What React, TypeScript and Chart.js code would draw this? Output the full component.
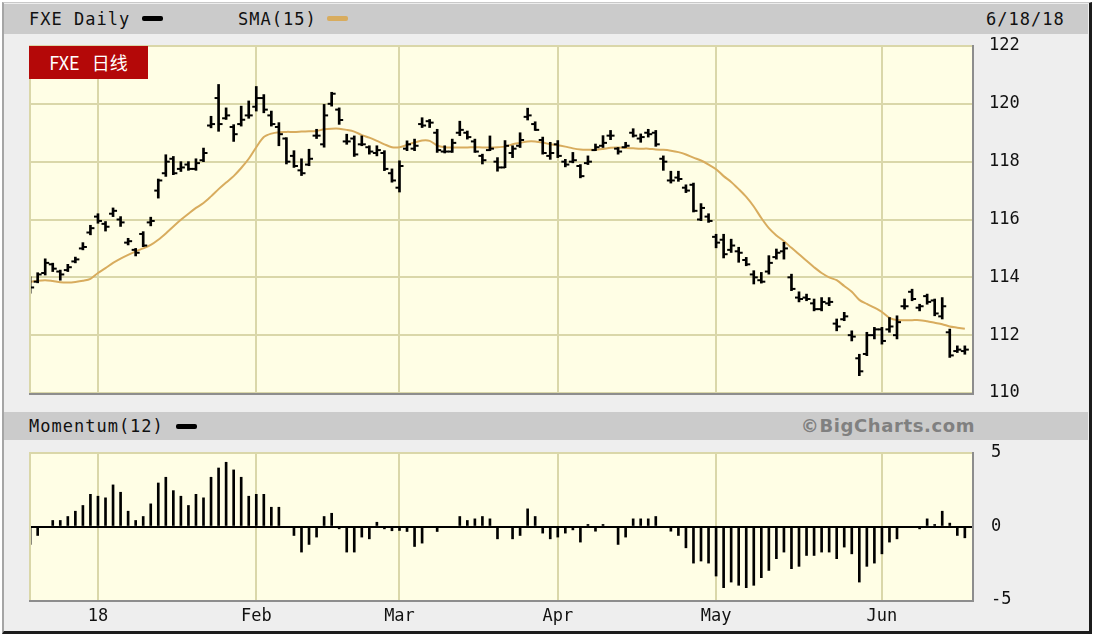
import React, { useEffect, useRef } from 'react';
import { Chart, registerables } from 'chart.js';

Chart.register(...registerables);

// ---- Data (trading-day index 0 = 2017-12-18 ... 124 = 2018-06-18) ----
const HIGH = [
  114.02, 114.16, 114.64, 114.49, 114.25, 114.45, 114.7, 115.2, 115.8, 116.2,
  115.93, 116.4, 116.1, 115.35, 115.0, 115.58, 116.08, 117.4, 118.24, 118.18,
  118.0, 118.0, 118.1, 118.47, 119.57, 120.67, 119.86, 119.28, 119.92, 120.1,
  120.6, 120.32, 119.75, 119.35, 118.83, 118.38, 118.1, 118.43, 119.12, 119.98,
  120.4, 119.86, 118.95, 118.89, 118.89, 118.55, 118.55, 118.38, 117.75, 118.03,
  118.72, 118.78, 119.52, 119.46, 119.12, 118.55, 118.78, 119.4, 119.06, 118.78,
  118.26, 118.89, 118.14, 118.73, 118.55, 119.0, 119.85, 119.38, 118.85, 118.67,
  118.73, 118.08, 118.32, 117.9, 118.2, 118.61, 118.9, 119.08, 118.49, 118.67,
  119.14, 118.96, 119.12, 119.08, 118.2, 117.67, 117.67, 117.2, 117.26, 116.55,
  116.2, 115.49, 115.49, 115.32, 115.04, 114.69, 114.23, 114.17, 114.75, 114.98,
  115.21, 114.11, 113.5, 113.42, 113.25, 113.3, 113.3, 112.56, 112.79, 112.15,
  111.34, 112.1, 112.27, 112.27, 112.61, 112.67, 113.25, 113.59, 113.07, 113.42,
  113.25, 113.3, 112.21, 111.63, 111.63,
];
const LOW = [
  113.45, 113.81, 114.08, 114.2, 113.9, 114.2, 114.5, 114.95, 115.47, 115.87,
  115.6, 116.1, 115.76, 115.12, 114.74, 115.06, 115.78, 116.74, 117.49, 117.55,
  117.66, 117.7, 117.7, 118.0, 119.17, 119.05, 119.46, 118.7, 119.23, 119.5,
  119.75, 119.69, 119.23, 118.55, 117.92, 117.8, 117.52, 117.86, 118.8, 118.5,
  119.92, 119.29, 118.6, 118.18, 118.55, 118.26, 118.2, 117.69, 117.29, 116.95,
  118.38, 118.38, 119.18, 119.18, 118.32, 118.3, 118.32, 118.9, 118.78, 118.32,
  117.92, 118.38, 117.67, 117.79, 118.14, 118.49, 119.44, 119.08, 118.26, 118.08,
  118.14, 117.82, 117.96, 117.44, 117.9, 118.38, 118.49, 118.76, 118.26, 118.49,
  118.85, 118.67, 118.85, 118.53, 117.7, 117.26, 117.32, 116.93, 116.26, 115.96,
  115.9, 115.02, 114.67, 114.86, 114.52, 114.4, 113.77, 113.8, 114.11, 114.63,
  114.63, 113.54, 113.15, 113.19, 112.84, 112.84, 113.02, 112.15, 112.5, 111.8,
  110.6, 111.29, 111.87, 111.69, 112.1, 111.87, 112.9, 113.19, 112.84, 113.07,
  112.67, 112.56, 111.23, 111.4, 111.34,
];
const OPEN = [
  113.85, 113.85, 114.15, 114.45, 114.2, 114.25, 114.55, 115.0, 115.55, 116.1,
  115.85, 116.2, 116.0, 115.2, 114.95, 115.5, 115.9, 117.0, 117.6, 118.1,
  117.75, 117.9, 117.75, 118.05, 119.25, 120.2, 119.5, 119.2, 119.3, 119.6,
  119.9, 120.2, 119.6, 119.2, 118.8, 118.2, 117.7, 117.9, 118.9, 118.6,
  120.0, 119.8, 118.7, 118.8, 118.6, 118.5, 118.3, 118.3, 117.6, 117.1,
  118.45, 118.45, 119.3, 119.4, 119.0, 118.35, 118.35, 119.0, 119.0, 118.7,
  118.2, 118.4, 118.0, 117.8, 118.3, 118.55, 119.55, 119.3, 118.75, 118.2,
  118.6, 118.0, 118.0, 117.85, 117.95, 118.4, 118.55, 118.9, 118.45, 118.5,
  119.0, 118.8, 119.0, 119.0, 118.1, 117.35, 117.45, 117.1, 117.2, 116.0,
  116.1, 115.4, 115.3, 114.95, 114.9, 114.6, 114.1, 113.9, 114.2, 114.7,
  114.9, 114.0, 113.3, 113.3, 113.1, 112.9, 113.1, 112.4, 112.55, 112.0,
  111.2, 111.35, 112.0, 112.2, 112.2, 112.0, 113.0, 113.5, 112.95, 113.35,
  113.2, 112.65, 112.1, 111.45, 111.45,
];
const CLOSE = [
  113.65, 114.1, 114.5, 114.3, 114.1, 114.35, 114.62, 115.05, 115.7, 115.95,
  115.75, 116.3, 115.9, 115.25, 114.85, 115.1, 115.95, 117.35, 118.0, 117.6,
  117.8, 117.75, 117.95, 118.3, 119.3, 119.3, 119.6, 118.95, 119.45, 119.6,
  120.2, 119.8, 119.3, 118.95, 118.0, 117.85, 117.6, 118.1, 118.9, 119.6,
  120.35, 119.44, 118.7, 118.25, 118.6, 118.35, 118.4, 117.75, 117.35, 117.85,
  118.6, 118.55, 119.25, 119.35, 118.4, 118.35, 118.65, 119.1, 118.85, 118.35,
  118.05, 118.45, 117.8, 118.55, 118.45, 118.75, 119.6, 119.1, 118.3, 118.3,
  118.2, 117.9, 118.05, 117.5, 118.0, 118.5, 118.65, 118.9, 118.35, 118.55,
  118.9, 118.85, 118.95, 118.6, 118.0, 117.35, 117.4, 117.0, 116.3, 116.4,
  115.95, 115.2, 114.8, 115.1, 114.85, 114.45, 114.0, 113.85, 114.5, 114.85,
  115.0, 113.6, 113.25, 113.25, 112.9, 113.15, 113.15, 112.3, 112.65, 111.95,
  110.75, 112.0, 112.2, 111.8, 112.3, 112.45, 113.0, 113.25, 113.0, 113.15,
  112.75, 113.0, 111.3, 111.5, 111.5,
];
const SMA15 = [
  113.84, 113.88, 113.9, 113.87, 113.83, 113.82, 113.84, 113.88, 113.95, 114.15,
  114.32, 114.5, 114.65, 114.78, 114.9, 115.0, 115.12, 115.3, 115.52, 115.76,
  115.99, 116.2, 116.4, 116.57, 116.8, 117.05, 117.28, 117.5, 117.78, 118.1,
  118.5, 118.85, 118.97, 119.02, 119.03, 119.03, 119.04, 119.05, 119.06, 119.12,
  119.14, 119.14, 119.1, 119.04, 118.92, 118.83, 118.72, 118.6, 118.5, 118.5,
  118.58, 118.66, 118.73, 118.72, 118.56, 118.5, 118.49, 118.49, 118.49, 118.5,
  118.49, 118.49, 118.5, 118.52, 118.6, 118.65, 118.7, 118.7, 118.66, 118.6,
  118.57, 118.52, 118.46, 118.42, 118.41, 118.41, 118.44, 118.48, 118.49, 118.47,
  118.46, 118.45, 118.45, 118.42, 118.41, 118.38, 118.33, 118.25, 118.14, 118.04,
  117.9, 117.74, 117.5, 117.3, 117.05, 116.78, 116.45, 116.05, 115.7, 115.45,
  115.25, 115.02, 114.8, 114.57, 114.35, 114.15, 114.0, 113.9, 113.7, 113.5,
  113.22, 113.08, 112.95, 112.8, 112.6, 112.52, 112.52, 112.52, 112.52, 112.48,
  112.43, 112.38, 112.3, 112.26, 112.22,
];
const MOMENTUM = [
  -1.22, -0.61, 0, 0.41, 0.41, 0.68, 1.04, 1.43, 2.19, 2.06,
  1.95, 2.83, 2.33, 1.04, 0.41, 0.68, 1.54, 2.96, 3.35, 2.44,
  2.06, 1.43, 2.19, 1.95, 3.35, 3.98, 4.37, 3.85, 3.35, 2.06,
  2.19, 2.19, 1.31, 1.31, 0, -0.61, -1.74, -1.22, -0.72, 0.68,
  0.9, -0.16, -1.74, -1.74, -0.72, -0.84, 0.29, -0.16, -0.29, -0.27,
  -0.34, -1.36, -1.13, 0, -0.34, 0, 0, 0.68, 0.41, 0.52,
  0.68, 0.52, -0.84, 0, -0.84, -0.61, 1.2, 0.68, -0.45, -0.84,
  -0.72, -0.45, -0.23, -1.06, 0.14, -0.32, 0.14, 0, -1.22, -0.72,
  0.52, 0.52, 0.52, 0.68, 0, -0.32, -0.61, -1.45, -2.49, -2.35,
  -2.49, -3.37, -4.16, -3.78, -4.0, -4.16, -4.0, -3.48, -2.99, -2.19,
  -1.74, -2.87, -2.71, -1.97, -1.97, -1.74, -1.74, -2.19, -1.4, -1.86,
  -3.78, -2.71, -2.49, -1.86, -1.06, -0.84, 0, 0, -0.16, 0.52,
  0.14, 1.04, 0.23, -0.61, -0.77,
];
const MONTH_TICK_INDEX = [9, 30, 49, 70, 91, 113];
const MONTH_TICK_LABELS = ['18', 'Feb', 'Mar', 'Apr', 'May', 'Jun'];
const PRICE_TICKS = [110, 112, 114, 116, 118, 120, 122];
const MOM_TICKS = [-5, 0, 5];

// ---- Styles ----
const PLOT_BG = '#fffee5';
const GRID = '#dad7a9';
const SHADOW = '#8d8d8d';
const SMA_COLOR = '#d8ac5e';
const MONO = '"DejaVu Sans Mono", monospace';
const X_MIN = -0.15;
const X_MAX = 124.95;

const zeroPadding = (s: any) => {
  s.paddingTop = 0;
  s.paddingBottom = 0;
  s.paddingLeft = 0;
  s.paddingRight = 0;
};

const plotFrame = {
  id: 'plotFrame',
  beforeDraw(chart: any) {
    const { ctx, chartArea: a } = chart;
    ctx.save();
    ctx.fillStyle = PLOT_BG;
    ctx.fillRect(a.left, a.top, a.right - a.left, a.bottom - a.top);
    ctx.restore();
  },
  afterDraw(chart: any) {
    const { ctx, chartArea: a } = chart;
    ctx.save();
    ctx.lineWidth = 2;
    ctx.strokeStyle = GRID;
    ctx.beginPath();
    ctx.moveTo(a.left + 1, a.bottom);
    ctx.lineTo(a.left + 1, a.top);
    ctx.stroke();
    ctx.strokeStyle = SHADOW;
    ctx.beginPath();
    ctx.moveTo(a.left, a.bottom + 1);
    ctx.lineTo(a.right + 1, a.bottom + 1);
    ctx.lineTo(a.right + 1, a.top - 1);
    ctx.stroke();
    ctx.restore();
  },
};

const xAxisBase = {
  type: 'linear' as const,
  min: X_MIN,
  max: X_MAX,
  offset: false,
  afterBuildTicks: (s: any) => {
    s.ticks = MONTH_TICK_INDEX.map((v) => ({ value: v }));
  },
  border: { display: false },
};

export default function App() {
  const mainRef = useRef<HTMLCanvasElement>(null);
  const momRef = useRef<HTMLCanvasElement>(null);

  useEffect(() => {
    const main = new Chart(mainRef.current as HTMLCanvasElement, {
      type: 'bar',
      data: {
        datasets: [
          {
            type: 'line',
            label: 'SMA(15)',
            data: SMA15.map((v, i) => ({ x: i, y: v })),
            borderColor: SMA_COLOR,
            borderWidth: 2,
            pointRadius: 0,
            tension: 0.3,
            order: 3,
          } as any,
          {
            type: 'bar',
            label: 'FXE Daily',
            data: HIGH.map((h, i) => ({ x: i, y: [LOW[i], h] })),
            backgroundColor: '#000',
            barThickness: 2,
            grouped: false,
            order: 2,
          } as any,
          {
            type: 'scatter',
            label: 'Open',
            data: OPEN.map((v, i) => ({ x: i, y: v })),
            pointStyle: 'dash',
            rotation: 180,
            pointRadius: 4,
            borderColor: '#000',
            borderWidth: 2,
            order: 1,
          } as any,
          {
            type: 'scatter',
            label: 'Close',
            data: CLOSE.map((v, i) => ({ x: i, y: v })),
            pointStyle: 'dash',
            rotation: 0,
            pointRadius: 4,
            borderColor: '#000',
            borderWidth: 2,
            order: 1,
          } as any,
        ],
      },
      options: {
        animation: false,
        responsive: false,
        maintainAspectRatio: false,
        layout: { autoPadding: false, padding: { top: 16, bottom: 12, left: 0, right: 0 } },
        plugins: { legend: { display: false }, tooltip: { enabled: false } },
        scales: {
          x: {
            ...xAxisBase,
            ticks: { display: false },
            grid: { color: GRID, lineWidth: 2, drawTicks: false, offset: false },
            afterFit: (s: any) => {
              s.height = 0;
              zeroPadding(s);
            },
          },
          y: {
            type: 'linear',
            position: 'right',
            min: 110,
            max: 122,
            afterBuildTicks: (s: any) => {
              s.ticks = PRICE_TICKS.map((v) => ({ value: v }));
            },
            afterFit: (s: any) => {
              s.width = 116;
              zeroPadding(s);
            },
            ticks: { padding: 17, color: '#111', font: { family: MONO, size: 17 } },
            grid: { color: GRID, lineWidth: 2, drawTicks: false },
            border: { display: false },
          },
        },
      } as any,
      plugins: [plotFrame],
    });

    const mom = new Chart(momRef.current as HTMLCanvasElement, {
      type: 'bar',
      data: {
        datasets: [
          {
            label: 'Momentum(12)',
            data: MOMENTUM.map((v, i) => ({ x: i, y: v })),
            backgroundColor: '#000',
            barThickness: 2,
            grouped: false,
          } as any,
        ],
      },
      options: {
        animation: false,
        responsive: false,
        maintainAspectRatio: false,
        layout: { autoPadding: false, padding: { top: 13, bottom: 0, left: 0, right: 0 } },
        plugins: { legend: { display: false }, tooltip: { enabled: false } },
        scales: {
          x: {
            ...xAxisBase,
            ticks: {
              display: true,
              autoSkip: false,
              maxRotation: 0,
              padding: 6,
              color: '#111',
              font: { family: MONO, size: 17 },
              callback: (v: any) => {
                const k = MONTH_TICK_INDEX.indexOf(Number(v));
                return k >= 0 ? MONTH_TICK_LABELS[k] : '';
              },
            },
            grid: { color: GRID, lineWidth: 2, drawTicks: false, offset: false },
            afterFit: (s: any) => {
              s.height = 37;
              zeroPadding(s);
            },
          },
          y: {
            type: 'linear',
            position: 'right',
            min: -5,
            max: 5,
            afterBuildTicks: (s: any) => {
              s.ticks = MOM_TICKS.map((v) => ({ value: v }));
            },
            afterFit: (s: any) => {
              s.width = 116;
              zeroPadding(s);
            },
            ticks: { padding: 19, color: '#111', font: { family: MONO, size: 17 } },
            grid: {
              drawTicks: false,
              color: (c: any) => (c.tick && c.tick.value === 0 ? '#000' : GRID),
              lineWidth: (c: any) => (c.tick && c.tick.value === -5 ? 0 : 2),
            },
            border: { display: false },
          },
        },
      } as any,
      plugins: [plotFrame],
    });

    return () => {
      main.destroy();
      mom.destroy();
    };
  }, []);

  const textBase: React.CSSProperties = {
    position: 'absolute',
    fontFamily: MONO,
    fontSize: 17,
    letterSpacing: 1,
    lineHeight: '20px',
    color: '#111',
    whiteSpace: 'nowrap',
  };

  return (
    <div
      style={{
        position: 'absolute',
        left: 0,
        top: 0,
        width: 1095,
        height: 637,
        background: '#ffffff',
        overflow: 'hidden',
      }}
    >
      <div
        style={{
          position: 'absolute',
          left: 2,
          top: 2,
          width: 1090,
          height: 632,
          boxSizing: 'border-box',
          background: '#eeeeee',
          borderLeft: '2px solid #a5a5a5',
          borderTop: '1px solid #c9c9c9',
          borderRight: '3px solid #1c1c1c',
          borderBottom: '3px solid #1c1c1c',
        }}
      />
      {/* header band */}
      <div style={{ position: 'absolute', left: 4, top: 4, width: 1084, height: 30, background: '#cbcbcb' }} />
      <div style={{ ...textBase, left: 29, top: 9 }}>FXE Daily</div>
      <div style={{ position: 'absolute', left: 142, top: 16, width: 21, height: 5, borderRadius: 2, background: '#000' }} />
      <div style={{ ...textBase, left: 238, top: 9 }}>SMA(15)</div>
      <div style={{ position: 'absolute', left: 327, top: 16, width: 21, height: 5, borderRadius: 2, background: SMA_COLOR }} />
      <div style={{ ...textBase, left: 986, top: 9 }}>6/18/18</div>

      {/* middle band */}
      <div style={{ position: 'absolute', left: 4, top: 412, width: 1084, height: 28, background: '#cbcbcb' }} />
      <div style={{ ...textBase, left: 29, top: 416 }}>Momentum(12)</div>
      <div style={{ position: 'absolute', left: 176, top: 424, width: 21, height: 5, borderRadius: 2, background: '#000' }} />
      <div
        style={{
          position: 'absolute',
          right: 1095 - 975,
          top: 414,
          fontFamily: '"DejaVu Sans", Verdana, sans-serif',
          fontWeight: 'bold',
          fontSize: 18,
          letterSpacing: 0.6,
          lineHeight: '24px',
          color: '#808080',
          whiteSpace: 'nowrap',
        }}
      >
        ©BigCharts.com
      </div>

      <canvas
        ref={mainRef}
        width={1059}
        height={375}
        style={{ position: 'absolute', left: 29, top: 30, width: 1059, height: 375 }}
      />
      <canvas
        ref={momRef}
        width={1059}
        height={197}
        style={{ position: 'absolute', left: 29, top: 440, width: 1059, height: 197 }}
      />

      {/* title tag */}
      <div
        style={{
          position: 'absolute',
          left: 29,
          top: 46,
          width: 119,
          height: 33,
          background: '#b40808',
          color: '#ffffff',
          fontFamily: '"Noto Sans CJK SC", "Noto Sans", sans-serif',
          fontSize: 18,
          lineHeight: '33px',
          textAlign: 'center',
          wordSpacing: 8,
          whiteSpace: 'nowrap',
        }}
      >
        FXE 日线
      </div>
    </div>
  );
}
